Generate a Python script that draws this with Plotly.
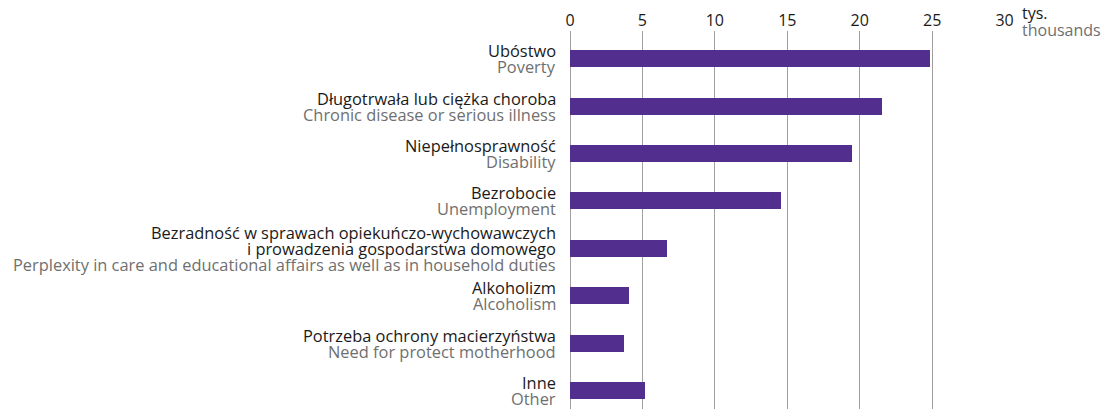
import plotly.graph_objects as go

# Reasons for granting social assistance (thousands of households)
labels_pl = [
    ["Ubóstwo"],
    ["Długotrwała lub ciężka choroba"],
    ["Niepełnosprawność"],
    ["Bezrobocie"],
    ["Bezradność w sprawach opiekuńczo-wychowawczych", "i prowadzenia gospodarstwa domowego"],
    ["Alkoholizm"],
    ["Potrzeba ochrony macierzyństwa"],
    ["Inne"],
]
labels_en = [
    "Poverty",
    "Chronic disease or serious illness",
    "Disability",
    "Unemployment",
    "Perplexity in care and educational affairs as well as in household duties",
    "Alcoholism",
    "Need for protect motherhood",
    "Other",
]
values = [24.85, 21.55, 19.45, 14.6, 6.7, 4.1, 3.7, 5.2]
x_ticks = [0, 5, 10, 15, 20, 25, 30]

FONT = "Open Sans"
FS = 16
FS_LABEL = 16.4
BAR = "#522f8f"
DARK = "#1a1a1a"
GREY = "#6f6f6f"
LINE_H = 16

positions = list(range(len(values)))

fig = go.Figure()
fig.add_trace(go.Bar(
    x=values,
    y=positions,
    orientation="h",
    width=0.36,
    marker=dict(color=BAR, line=dict(width=0)),
    hoverinfo="x",
))

annotations = []
for pos, pl, en in zip(positions, labels_pl, labels_en):
    lines = [(t, DARK) for t in pl] + [(en, GREY)]
    n = len(lines)
    for j, (txt, col) in enumerate(lines):
        shift = ((n - 1) / 2 - j) * LINE_H
        annotations.append(dict(
            text=txt, x=0, xref="paper", xanchor="right", xshift=-12,
            y=pos, yref="y", yanchor="middle", yshift=shift,
            showarrow=False, font=dict(family=FONT, size=FS_LABEL, color=col),
        ))

annotations.append(dict(
    text="tys.", x=1.0345, xref="paper", xanchor="left",
    y=1, yref="paper", yanchor="middle", yshift=18,
    showarrow=False, font=dict(family=FONT, size=FS, color=DARK),
))
annotations.append(dict(
    text="thousands", x=1.0345, xref="paper", xanchor="left",
    y=1, yref="paper", yanchor="middle", yshift=1,
    showarrow=False, font=dict(family=FONT, size=FS, color=GREY),
))

fig.update_layout(
    width=1112, height=409,
    margin=dict(l=570, r=107, t=31, b=0, autoexpand=False),
    plot_bgcolor="white", paper_bgcolor="white",
    showlegend=False,
    bargap=0,
    annotations=annotations,
    font=dict(family=FONT, size=FS, color=DARK),
    xaxis=dict(
        side="top", range=[0, 30.03], tickvals=x_ticks,
        ticktext=[str(v) for v in x_ticks],
        showgrid=True, gridcolor="#a0a0a0", gridwidth=1,
        zeroline=True, zerolinecolor="#a0a0a0", zerolinewidth=1,
        showline=False, ticks="", ticklabelstandoff=1,
        tickfont=dict(family=FONT, size=FS, color=DARK),
        fixedrange=True,
    ),
    yaxis=dict(
        range=[7.39, -0.584], showticklabels=False, showgrid=False,
        zeroline=False, showline=False, fixedrange=True,
    ),
)

fig.write_html("out.html")
